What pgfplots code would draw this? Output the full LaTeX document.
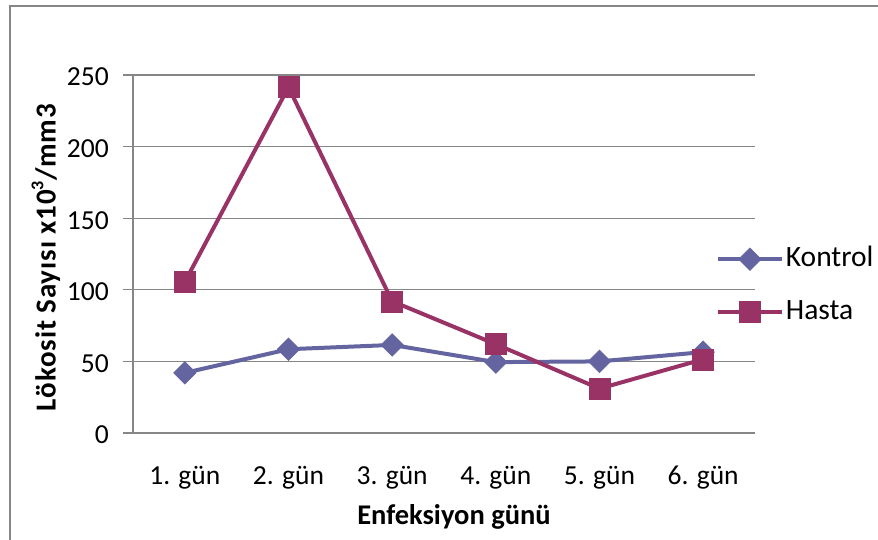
\documentclass[border=0pt]{standalone}
\usepackage{fontspec}
\setmainfont{Carlito}
\usepackage{pgfplots}
\pgfplotsset{compat=1.18}
\definecolor{kontrol}{RGB}{100,101,160}
\definecolor{hasta}{RGB}{153,51,102}
\definecolor{gridgray}{RGB}{134,134,134}
\begin{document}
\begin{tikzpicture}[x=1pt,y=1pt]
\useasboundingbox (0,0) rectangle (878,539);
\clip (0,0) rectangle (878,539);
\draw[gridgray, line width=1.3pt] (10,-20) -- (10,533) -- (900,533);
\begin{axis}[
  at={(133pt,106pt)}, anchor=south west,
  scale only axis, width=622pt, height=358pt,
  xmin=-0.5, xmax=5.5, ymin=0, ymax=250,
  axis x line*=bottom, axis y line*=left,
  axis line style={gridgray, line width=1.3pt},
  ytick={0,50,...,250},
  xtick={0,...,5},
  xticklabels={1. gün,2. gün,3. gün,4. gün,5. gün,6. gün},
  ymajorgrids, grid style={gridgray, line width=1.3pt},
  major tick length=10pt,
  ytick style={gridgray, line width=1.3pt},
  xtick style={draw=none},
  tick align=outside,
  /pgf/number format/assume math mode=true,
  ticklabel style={font=\fontsize{27.5}{32}\selectfont, text=black},
  yticklabel style={anchor=east, inner sep=0pt, xshift=-14pt, yshift=-2pt},
  xticklabel style={anchor=base, yshift=-41pt, inner sep=0pt},
  xlabel={Enfeksiyon günü},
  xlabel style={font=\fontsize{28.5}{32}\selectfont\bfseries, at={(axis description cs:0.516,-0.235)}, anchor=center},
  ylabel={Lökosit Sayısı x10\raisebox{0.42em}{\fontsize{18}{18}\selectfont 3}/mm3},
  ylabel style={font=\fontsize{29}{32}\selectfont\bfseries\addfontfeature{LetterSpace=3}, at={(axis description cs:-0.14,0.49)}, anchor=center},
  legend style={at={(axis description cs:0.932,0.5335)}, anchor=north west,
    draw=none, fill=none, font=\fontsize{29.5}{32}\selectfont,
    nodes={inner sep=2pt, text height=20pt, text depth=6pt},
    row sep=23pt},
  legend cell align=left,
  legend image code/.code={\draw[#1, mark repeat=2, mark phase=2] plot coordinates {(0pt,0pt) (32pt,0pt) (64pt,0pt)};},
  clip=false,
]
\addplot[kontrol, line width=4pt, mark=square*, mark size=8pt, mark options={rotate=45, solid, line width=0.5pt}]
  coordinates {(0,42) (1,58.5) (2,61.5) (3,49.5) (4,50) (5,56.5)};
\addlegendentry{Kontrol}
\addplot[hasta, line width=4pt, mark=square*, mark size=10.5pt, mark options={solid, line width=0.5pt}]
  coordinates {(0,105.5) (1,241.5) (2,92) (3,62) (4,31) (5,51.5)};
\addlegendentry{Hasta}
\end{axis}
\end{tikzpicture}
\end{document}
